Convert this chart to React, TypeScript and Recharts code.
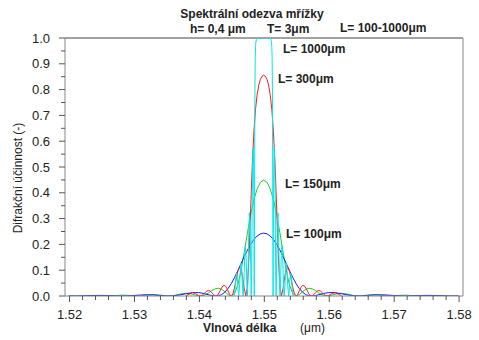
import { LineChart, Line, XAxis, YAxis, ReferenceLine } from 'recharts';

// wavelength grid (um) shared by the L=100 and L=150 curves
const wlBG = [
  1.5199, 1.5209, 1.5219, 1.5229, 1.5239, 1.5249, 1.5259, 1.5269, 1.5279, 1.5289,
  1.5299, 1.5309, 1.5319, 1.5329, 1.5339, 1.5349, 1.5359, 1.5369, 1.5379,
  1.5384, 1.5389, 1.5394, 1.5399, 1.5404, 1.5409, 1.5414, 1.5419, 1.5424, 1.5429,
  1.5434, 1.5439, 1.5444, 1.5449, 1.5454, 1.5459, 1.5464, 1.5469, 1.5474, 1.5479,
  1.5484, 1.5489, 1.5494, 1.5499, 1.5504, 1.5509, 1.5514, 1.5519, 1.5524, 1.5529,
  1.5534, 1.5539, 1.5544, 1.5549, 1.5554, 1.5559, 1.5564, 1.5569, 1.5574, 1.5579,
  1.5584, 1.5589, 1.5594, 1.5599, 1.5604, 1.5609, 1.5614,
  1.5619, 1.5629, 1.5639, 1.5649, 1.5659, 1.5669, 1.5679, 1.5689, 1.5699, 1.5709,
  1.5719, 1.5729, 1.5739, 1.5749, 1.5759, 1.5769, 1.5779, 1.5789, 1.5799,
];

const blueL100 = [
  0.0003, 0.0000, 0.0004, 0.0013, 0.0022, 0.0024, 0.0018, 0.0007, 0.0000, 0.0004,
  0.0020, 0.0038, 0.0048, 0.0041, 0.0020, 0.0002, 0.0005, 0.0037, 0.0087,
  0.0112, 0.0129, 0.0136, 0.0131, 0.0112, 0.0084, 0.0050, 0.0019, 0.0001, 0.0008,
  0.0053, 0.0143, 0.0285, 0.0476, 0.0709, 0.0972, 0.1249, 0.1524, 0.1779, 0.2004,
  0.2190, 0.2326, 0.2409, 0.2437, 0.2409, 0.2326, 0.2190, 0.2004, 0.1779, 0.1524,
  0.1249, 0.0972, 0.0709, 0.0476, 0.0285, 0.0143, 0.0053, 0.0008, 0.0001, 0.0019,
  0.0050, 0.0084, 0.0112, 0.0131, 0.0136, 0.0129, 0.0112,
  0.0087, 0.0037, 0.0005, 0.0002, 0.0020, 0.0041, 0.0048, 0.0038, 0.0020, 0.0004,
  0.0000, 0.0007, 0.0018, 0.0024, 0.0022, 0.0013, 0.0004, 0.0000, 0.0003,
];

const greenL150 = [
  0.0006, 0.0000, 0.0008, 0.0020, 0.0019, 0.0006, 0.0001, 0.0015, 0.0032, 0.0026,
  0.0005, 0.0003, 0.0030, 0.0054, 0.0039, 0.0005, 0.0011, 0.0068, 0.0107,
  0.0097, 0.0068, 0.0032, 0.0004, 0.0005, 0.0045, 0.0119, 0.0206, 0.0276, 0.0301,
  0.0263, 0.0171, 0.0058, 0.0000, 0.0091, 0.0407, 0.0960, 0.1680, 0.2448, 0.3157,
  0.3737, 0.4156, 0.4411, 0.4490, 0.4411, 0.4156, 0.3737, 0.3157, 0.2448, 0.1680,
  0.0960, 0.0407, 0.0091, 0.0000, 0.0058, 0.0171, 0.0263, 0.0301, 0.0276, 0.0206,
  0.0119, 0.0045, 0.0005, 0.0004, 0.0032, 0.0068, 0.0097,
  0.0107, 0.0068, 0.0011, 0.0005, 0.0039, 0.0054, 0.0030, 0.0003, 0.0005, 0.0026,
  0.0032, 0.0015, 0.0001, 0.0006, 0.0019, 0.0020, 0.0008, 0.0000, 0.0006,
];

const wlRed = [
  1.5379, 1.5384, 1.5389, 1.5394, 1.5399, 1.54015, 1.5404, 1.54065, 1.5409, 1.54115,
  1.5414, 1.54165, 1.5419, 1.54215, 1.5424, 1.54265, 1.5429, 1.54315, 1.5434, 1.54365,
  1.5439, 1.54415, 1.5444, 1.54465, 1.5449, 1.54515, 1.5454, 1.54565, 1.5459, 1.54615,
  1.5464, 1.54665, 1.5469, 1.54715, 1.5474, 1.54765, 1.5479, 1.54815, 1.5484, 1.54865,
  1.5489, 1.54915, 1.5494, 1.54965, 1.5499, 1.55015, 1.5504, 1.55065, 1.5509, 1.55115,
  1.5514, 1.55165, 1.5519, 1.55215, 1.5524, 1.55265, 1.5529, 1.55315, 1.5534, 1.55365,
  1.5539, 1.55415, 1.5544, 1.55465, 1.5549, 1.55515, 1.5554, 1.55565, 1.5559, 1.55615,
  1.5564, 1.55665, 1.5569, 1.55715, 1.5574, 1.55765, 1.5579, 1.55815, 1.5584, 1.55865,
  1.5589, 1.55915, 1.5594, 1.55965, 1.5599, 1.5604, 1.5609, 1.5614, 1.5619,
];

const redL300 = [
  0.0005, 0.0069, 0.0129, 0.0097, 0.0015, 0.0000, 0.0019, 0.0070, 0.0137, 0.0192,
  0.0215, 0.0194, 0.0135, 0.0062, 0.0009, 0.0007, 0.0070, 0.0184, 0.0308, 0.0396,
  0.0412, 0.0341, 0.0206, 0.0065, 0.0000, 0.0079, 0.0312, 0.0635, 0.0933, 0.1095,
  0.1042, 0.0753, 0.0307, 0.0004, 0.0338, 0.1605, 0.3406, 0.5100, 0.6378, 0.7248,
  0.7817, 0.8180, 0.8400, 0.8519, 0.8557, 0.8519, 0.8400, 0.8180, 0.7817, 0.7248,
  0.6378, 0.5100, 0.3406, 0.1605, 0.0338, 0.0004, 0.0307, 0.0753, 0.1042, 0.1095,
  0.0933, 0.0635, 0.0312, 0.0079, 0.0000, 0.0065, 0.0206, 0.0341, 0.0412, 0.0396,
  0.0308, 0.0184, 0.0070, 0.0007, 0.0009, 0.0062, 0.0135, 0.0194, 0.0215, 0.0192,
  0.0137, 0.0070, 0.0019, 0.0000, 0.0015, 0.0097, 0.0129, 0.0069, 0.0005,
];

const wlCyan = [
  1.54537, 1.5455, 1.5456, 1.5457, 1.5458, 1.5459, 1.546, 1.54606, 1.5462, 1.5463,
  1.5464, 1.5465, 1.5466, 1.5467, 1.54674, 1.5468, 1.5469, 1.547, 1.5471, 1.5472,
  1.5473, 1.54739, 1.5475, 1.5476, 1.5477, 1.5478, 1.5479, 1.54798, 1.54805, 1.5481,
  1.54815, 1.5482, 1.54825, 1.5483, 1.54835, 1.5484, 1.54845, 1.5485, 1.54855, 1.5486,
  1.54865, 1.5487, 1.5488, 1.5489, 1.5491, 1.5493, 1.5495, 1.5497,
  1.5499,
  1.5501, 1.5503, 1.5505, 1.5507, 1.5509, 1.551, 1.5511, 1.55115, 1.5512, 1.55125,
  1.5513, 1.55135, 1.5514, 1.55145, 1.5515, 1.55155, 1.5516, 1.55165, 1.5517, 1.55175,
  1.55182, 1.5519, 1.552, 1.5521, 1.5522, 1.5523, 1.55241, 1.5525, 1.5526, 1.5527,
  1.5528, 1.5529, 1.553, 1.55306, 1.5531, 1.5532, 1.5533, 1.5534, 1.5535, 1.5536,
  1.55374, 1.5538, 1.5539, 1.554, 1.5541, 1.5542, 1.5543, 1.55443,
];

const cyanL1000 = [
  0.0, 0.027, 0.065, 0.088, 0.081, 0.047, 0.009, 0.0, 0.043, 0.098,
  0.128, 0.112, 0.058, 0.006, 0.0, 0.015, 0.091, 0.170, 0.196, 0.151,
  0.052, 0.0, 0.095, 0.244, 0.323, 0.285, 0.118, 0.0, 0.104, 0.268,
  0.419, 0.522, 0.573, 0.573, 0.499, 0.298, 0.0, 0.388, 0.795, 0.925,
  0.967, 0.984, 0.995, 0.998, 0.999, 0.999, 1.0, 1.0,
  1.0,
  1.0, 1.0, 0.999, 0.999, 0.998, 0.995, 0.984, 0.967, 0.925, 0.795,
  0.388, 0.0, 0.298, 0.499, 0.573, 0.573, 0.522, 0.419, 0.268, 0.104,
  0.0, 0.118, 0.285, 0.323, 0.244, 0.095, 0.0, 0.052, 0.151, 0.196,
  0.170, 0.091, 0.015, 0.0, 0.006, 0.058, 0.112, 0.128, 0.098, 0.043,
  0.0, 0.009, 0.047, 0.081, 0.088, 0.065, 0.027, 0.0,
];

const xTicks = [
  1.52, 1.522, 1.524, 1.526, 1.528, 1.53, 1.532, 1.534, 1.536, 1.538,
  1.54, 1.542, 1.544, 1.546, 1.548, 1.55, 1.552, 1.554, 1.556, 1.558,
  1.56, 1.562, 1.564, 1.566, 1.568, 1.57, 1.572, 1.574, 1.576, 1.578, 1.58,
];
const yTicks = [
  0, 0.05, 0.1, 0.15, 0.2, 0.25, 0.3, 0.35, 0.4, 0.45, 0.5,
  0.55, 0.6, 0.65, 0.7, 0.75, 0.8, 0.85, 0.9, 0.95, 1.0,
];

const FONT = '"Liberation Sans", Arial, sans-serif';

const pts = (wl: number[], r: number[]) => wl.map((x, i) => ({ x, r: r[i] }));

function XTick({ x, y, payload }: any) {
  const v = payload.value;
  const major = Math.round(v * 1000) % 10 === 0;
  return (
    <g>
      <line x1={x} x2={x} y1={y} y2={y + (major ? 6 : 4)} stroke="#555" />
      {major && (
        <text x={x} y={y + 23} textAnchor="middle" fontSize={13} fill="#222" fontFamily={FONT}>
          {v.toFixed(2)}
        </text>
      )}
    </g>
  );
}

function YTick({ x, y, payload }: any) {
  const v = payload.value;
  const major = Math.round(v * 100) % 10 === 0;
  return (
    <g>
      <line x1={x - (major ? 6 : 4)} x2={x} y1={y} y2={y} stroke="#555" />
      {major && (
        <text x={x - 15} y={y + 4.5} textAnchor="end" fontSize={13} fill="#222" fontFamily={FONT}>
          {v.toFixed(1)}
        </text>
      )}
    </g>
  );
}

export default function App() {
  const lbl = { fontFamily: FONT, fontSize: 12, fontWeight: 700, fill: '#222' } as const;
  return (
    <div style={{ position: 'absolute', left: 0, top: 0, width: 479, height: 340, background: '#fff' }}>
      <LineChart width={479} height={340} margin={{ top: 38, right: 16, bottom: 0, left: 0 }}>
        <XAxis
          type="number"
          dataKey="x"
          domain={[1.5193, 1.5806]}
          ticks={xTicks}
          interval={0}
          allowDataOverflow
          height={44}
          tickSize={0}
          tickMargin={0}
          tickLine={false}
          axisLine={{ stroke: '#888' }}
          tick={<XTick />}
        />
        <YAxis
          type="number"
          domain={[0, 1]}
          ticks={yTicks}
          interval={0}
          allowDataOverflow
          width={65}
          tickSize={0}
          tickMargin={0}
          tickLine={false}
          axisLine={{ stroke: '#888' }}
          tick={<YTick />}
        />
        <ReferenceLine y={1} stroke="#444" />
        <ReferenceLine x={1.5806} stroke="#888" />
        <Line data={pts(wlBG, greenL150)} dataKey="r" type="linear" stroke="#22cc22" strokeWidth={1} dot={false} isAnimationActive={false} />
        <Line data={pts(wlBG, blueL100)} dataKey="r" type="linear" stroke="#1a1aff" strokeWidth={1} dot={false} isAnimationActive={false} />
        <Line data={pts(wlRed, redL300)} dataKey="r" type="linear" stroke="#ff1a1a" strokeWidth={1} dot={false} isAnimationActive={false} />
        <Line data={pts(wlCyan, cyanL1000)} dataKey="r" type="linear" stroke="#00e8f0" strokeWidth={1} dot={false} isAnimationActive={false} />
      </LineChart>
      <svg width={479} height={340} style={{ position: 'absolute', left: 0, top: 0, pointerEvents: 'none' }}>
        <text x={252} y={18} textAnchor="middle" {...lbl}>Spektrální odezva mřížky</text>
        <text x={190} y={33} {...lbl}>h= 0,4 μm</text>
        <text x={267} y={33} {...lbl}>T= 3μm</text>
        <text x={340} y={32} {...lbl}>L= 100-1000μm</text>
        <text x={283} y={53} {...lbl}>L= 1000μm</text>
        <text x={278} y={83} {...lbl}>L= 300μm</text>
        <text x={285} y={188} {...lbl}>L= 150μm</text>
        <text x={286} y={238} {...lbl}>L= 100μm</text>
        <text x={203} y={332} {...lbl}>Vlnová délka</text>
        <text x={300} y={332} fontFamily={FONT} fontSize={12} fill="#222">(μm)</text>
        <text
          x={22}
          y={178}
          transform="rotate(-90 22 178)"
          textAnchor="middle"
          fontFamily={FONT}
          fontSize={12}
          fill="#222"
        >
          Difrakční účinnost (-)
        </text>
      </svg>
    </div>
  );
}
